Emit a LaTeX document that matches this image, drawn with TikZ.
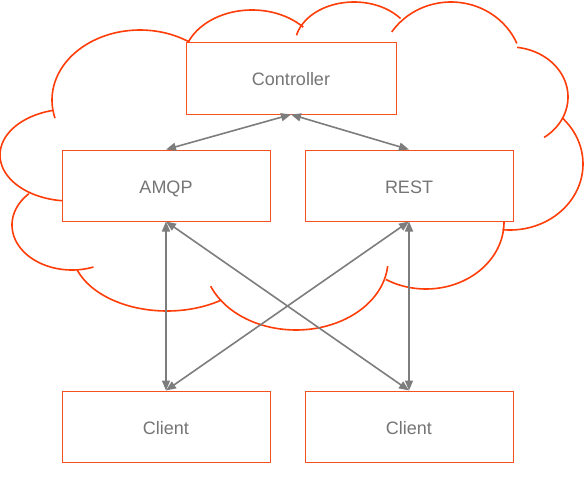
\documentclass[tikz,border=0pt]{standalone}
\usepackage{fontspec}
\setmainfont{Liberation Sans}
\usetikzlibrary{arrows.meta}
\definecolor{cloudred}{RGB}{255,61,8}
\definecolor{boxred}{RGB}{244,81,30}
\definecolor{linegray}{RGB}{125,125,125}
\definecolor{textgray}{RGB}{117,117,117}
\begin{document}
\begin{tikzpicture}[
    x=1pt, y=-1pt,
    cloud/.style={draw=cloudred, line width=1.6pt},
    box/.style={rectangle, draw=boxred, fill=white, line width=1pt, minimum width=208pt, minimum height=71pt,
        text height=16pt, text depth=0.4pt, text=textgray, font=\fontsize{18}{22}\selectfont},
    link/.style={{Triangle[length=10pt,width=8pt]}-{Triangle[length=10pt,width=8pt]}, line width=1.6pt, linegray}
]
    \useasboundingbox (0,0) rectangle (587,477);

    % Cloud outline, one arc per lobe
    \foreach \lx/\ly/\rx/\ry/\sa/\ea in {140/100/88/70/165/304, 252/62/69/52/200/318, 354/45/59/43/193/322,
        451/70/71.5/68/214/337, 510/97/58/50/-83/54, 510/164/73/66/-44/96, 426/222/78/67/-15/121,
        296/260/92/70/5/158, 167/250/95/61/55/161, 72/225/60/45/69/224, 70/155/70/46/80/256}
        \draw[cloud] plot[domain=\sa:\ea, samples=60, smooth] ({\lx+\rx*cos(\x)}, {\ly+\ry*sin(\x)});

    % Nodes positioned at the reference boxes
    \node[box, minimum width=210pt, minimum height=72pt] (ctrl) at (291,78) {Controller};
    \node[box] (amqp) at (166,185.5) {AMQP};
    \node[box] (rest) at (409,185.5) {REST};
    \node[box] (clientA) at (166,426.5) {Client};
    \node[box] (clientB) at (409,426.5) {Client};

    % Links
    \draw[link] (ctrl.south) -- (amqp.north);
    \draw[link] (ctrl.south) -- (rest.north);
    \draw[link] (amqp.south) -- (clientA.north);
    \draw[link] (amqp.south) -- (clientB.north);
    \draw[link] (rest.south) -- (clientA.north);
    \draw[link] (rest.south) -- (clientB.north);
\end{tikzpicture}
\end{document}
